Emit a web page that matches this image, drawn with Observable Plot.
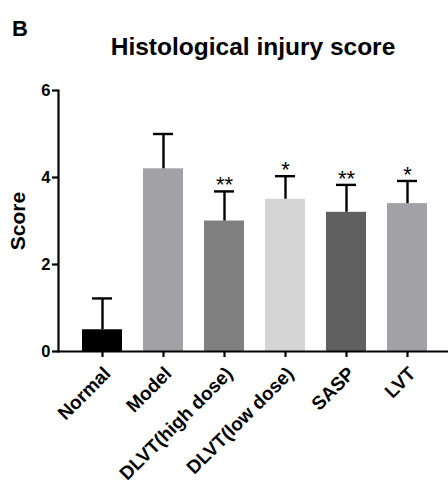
<!DOCTYPE html>
<html>
<head>
<meta charset="utf-8">
<script src="https://cdn.jsdelivr.net/npm/d3@7"></script>
<script src="https://cdn.jsdelivr.net/npm/@observablehq/plot@0.6"></script>
<style>
  html, body { margin: 0; padding: 0; background: #fff; }
  #wrap { position: relative; width: 448px; height: 486px; font-family: "Liberation Sans", Arial, sans-serif; }
  #panel { position: absolute; left: 12px; top: 16px; font-size: 22px; font-weight: bold; color: #000; }
  #title { position: absolute; left: 0; width: 506px; text-align: center; top: 33px; font-size: 24.5px; font-weight: bold; color: #000; }
  #chart { position: absolute; left: 0; top: 0; }
</style>
</head>
<body>
<div id="wrap">
  <div id="chart"></div>
  <div id="panel">B</div>
  <div id="title">Histological injury score</div>
</div>
<script>
const categories = ["Normal", "Model", "DLVT(high dose)", "DLVT(low dose)", "SASP", "LVT"];
const means = [0.5, 4.2, 3.0, 3.5, 3.2, 3.4];
const errors = [0.72, 0.8, 0.68, 0.53, 0.63, 0.52];
const significance = ["", "", "**", "*", "**", "*"];
const colors = ["#000000", "#a2a2a6", "#808080", "#d5d5d5", "#606060", "#a2a2a6"];
const yTicks = [0, 2, 4, 6];

const data = categories.map((c, i) => ({
  cat: c, mean: means[i], top: means[i] + errors[i], sig: significance[i], color: colors[i]
}));

const plot = Plot.plot({
  width: 448,
  height: 486,
  marginLeft: 58,
  marginRight: 0,
  marginTop: 90,
  marginBottom: 135,
  style: { fontFamily: "Liberation Sans, Arial, sans-serif", background: "#fff", color: "#000", fontWeight: "bold" },
  x: { domain: categories, range: [58, 451], paddingInner: 0.34, paddingOuter: 0.34, label: null },
  y: { domain: [0, 6], label: null },
  marks: [
    Plot.barY(data, { x: "cat", y: "mean", fill: "color" }),
    Plot.ruleX(data, { x: "cat", y1: "mean", y2: "top", stroke: "#000", strokeWidth: 2.4 }),
    Plot.tickY(data, { x: "cat", y: "top", stroke: "#000", strokeWidth: 2.4, insetLeft: 10, insetRight: 10 }),
    Plot.text(data.filter(d => d.sig), { x: "cat", y: "top", text: "sig", dy: -6, fill: "#000", fontSize: 22, fontWeight: "normal" }),
    Plot.ruleY([0], { stroke: "#000", strokeWidth: 2.2 }),
    Plot.frame({ anchor: "left", stroke: "#000", strokeWidth: 2.2 }),
    Plot.axisY({ ticks: yTicks, tickFormat: d3.format("d"), tickSize: 6, tickPadding: 2, strokeWidth: 2.2, label: "Score", labelAnchor: "center", labelArrow: "none", labelOffset: 48, fontSize: 16.5 }),
    Plot.axisX({ tickSize: 6, tickFormat: () => "", strokeWidth: 2.2, label: null }),
    Plot.axisX({ tickSize: 0, tickPadding: 19, dx: 5, tickRotate: -45, label: null, fontSize: 19 })
  ]
});
document.getElementById("chart").appendChild(plot);
d3.select(plot).selectAll('g[aria-label="y-axis label"] text').style("font-size", "21px");
</script>
</body>
</html>
